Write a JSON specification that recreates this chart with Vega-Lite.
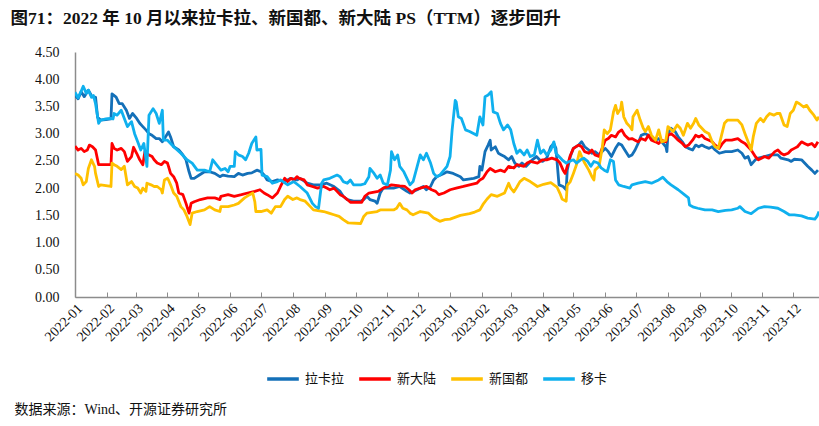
{
"$schema":"https://vega.github.io/schema/vega-lite/v6.json",
"background":"white",
"padding":{"left":10,"top":9,"right":0,"bottom":4},
"title":{"text":"数据来源：Wind、开源证券研究所","orient":"bottom","anchor":"start","frame":"bounds","font":"Liberation Serif, Noto Sans CJK SC","fontSize":14,"fontWeight":"normal","color":"#111111","offset":17,"dx":4},
"vconcat":[{
"width":744,"height":245,
"title":{"text":"图71：2022 年 10 月以来拉卡拉、新国都、新大陆 PS（TTM）逐步回升","anchor":"start","frame":"bounds","font":"Liberation Serif, Noto Sans CJK SC","fontSize":17.5,"fontWeight":"bold","color":"#111111","offset":18,"dx":-24},
"data":{"values":[
{"d":"2022-01-01","s":"拉卡拉","v":3.70},{"d":"2022-01-04","s":"拉卡拉","v":3.64},{"d":"2022-01-07","s":"拉卡拉","v":3.77},{"d":"2022-01-10","s":"拉卡拉","v":3.68},{"d":"2022-01-14","s":"拉卡拉","v":3.80},{"d":"2022-01-17","s":"拉卡拉","v":3.70},{"d":"2022-01-20","s":"拉卡拉","v":3.65},{"d":"2022-01-21","s":"拉卡拉","v":3.67},{"d":"2022-01-23","s":"拉卡拉","v":3.30},{"d":"2022-01-26","s":"拉卡拉","v":3.25},{"d":"2022-01-31","s":"拉卡拉","v":3.26},{"d":"2022-02-05","s":"拉卡拉","v":3.27},{"d":"2022-02-06","s":"拉卡拉","v":3.73},{"d":"2022-02-10","s":"拉卡拉","v":3.67},{"d":"2022-02-13","s":"拉卡拉","v":3.55},{"d":"2022-02-16","s":"拉卡拉","v":3.55},{"d":"2022-02-20","s":"拉卡拉","v":3.43},{"d":"2022-02-23","s":"拉卡拉","v":3.28},{"d":"2022-02-26","s":"拉卡拉","v":3.37},{"d":"2022-03-02","s":"拉卡拉","v":3.28},{"d":"2022-03-05","s":"拉卡拉","v":3.19},{"d":"2022-03-08","s":"拉卡拉","v":3.13},{"d":"2022-03-11","s":"拉卡拉","v":3.07},{"d":"2022-03-14","s":"拉卡拉","v":3.00},{"d":"2022-03-17","s":"拉卡拉","v":2.97},{"d":"2022-03-21","s":"拉卡拉","v":2.91},{"d":"2022-03-24","s":"拉卡拉","v":2.91},{"d":"2022-03-27","s":"拉卡拉","v":2.85},{"d":"2022-03-30","s":"拉卡拉","v":2.94},{"d":"2022-04-02","s":"拉卡拉","v":3.03},{"d":"2022-04-04","s":"拉卡拉","v":2.94},{"d":"2022-04-07","s":"拉卡拉","v":2.76},{"d":"2022-04-12","s":"拉卡拉","v":2.70},{"d":"2022-04-16","s":"拉卡拉","v":2.61},{"d":"2022-04-19","s":"拉卡拉","v":2.52},{"d":"2022-04-22","s":"拉卡拉","v":2.30},{"d":"2022-04-24","s":"拉卡拉","v":2.18},{"d":"2022-04-27","s":"拉卡拉","v":2.18},{"d":"2022-05-02","s":"拉卡拉","v":2.24},{"d":"2022-05-07","s":"拉卡拉","v":2.30},{"d":"2022-05-12","s":"拉卡拉","v":2.30},{"d":"2022-05-17","s":"拉卡拉","v":2.27},{"d":"2022-05-22","s":"拉卡拉","v":2.21},{"d":"2022-05-25","s":"拉卡拉","v":2.24},{"d":"2022-05-30","s":"拉卡拉","v":2.22},{"d":"2022-06-05","s":"拉卡拉","v":2.21},{"d":"2022-06-09","s":"拉卡拉","v":2.27},{"d":"2022-06-13","s":"拉卡拉","v":2.24},{"d":"2022-06-18","s":"拉卡拉","v":2.27},{"d":"2022-06-22","s":"拉卡拉","v":2.28},{"d":"2022-06-27","s":"拉卡拉","v":2.33},{"d":"2022-07-01","s":"拉卡拉","v":2.30},{"d":"2022-07-04","s":"拉卡拉","v":2.24},{"d":"2022-07-07","s":"拉卡拉","v":2.15},{"d":"2022-07-12","s":"拉卡拉","v":2.12},{"d":"2022-07-17","s":"拉卡拉","v":2.15},{"d":"2022-07-24","s":"拉卡拉","v":2.12},{"d":"2022-07-30","s":"拉卡拉","v":2.18},{"d":"2022-08-05","s":"拉卡拉","v":2.15},{"d":"2022-08-08","s":"拉卡拉","v":2.18},{"d":"2022-08-15","s":"拉卡拉","v":2.09},{"d":"2022-08-21","s":"拉卡拉","v":2.06},{"d":"2022-08-28","s":"拉卡拉","v":2.06},{"d":"2022-09-03","s":"拉卡拉","v":2.09},{"d":"2022-09-10","s":"拉卡拉","v":2.03},{"d":"2022-09-16","s":"拉卡拉","v":1.94},{"d":"2022-09-19","s":"拉卡拉","v":1.85},{"d":"2022-09-23","s":"拉卡拉","v":1.79},{"d":"2022-09-29","s":"拉卡拉","v":1.76},{"d":"2022-10-06","s":"拉卡拉","v":1.76},{"d":"2022-10-09","s":"拉卡拉","v":1.79},{"d":"2022-10-12","s":"拉卡拉","v":1.85},{"d":"2022-10-15","s":"拉卡拉","v":1.79},{"d":"2022-10-20","s":"拉卡拉","v":1.76},{"d":"2022-10-22","s":"拉卡拉","v":1.72},{"d":"2022-10-25","s":"拉卡拉","v":1.91},{"d":"2022-10-28","s":"拉卡拉","v":2.00},{"d":"2022-11-07","s":"拉卡拉","v":2.00},{"d":"2022-11-13","s":"拉卡拉","v":2.03},{"d":"2022-11-20","s":"拉卡拉","v":1.94},{"d":"2022-11-23","s":"拉卡拉","v":1.91},{"d":"2022-11-30","s":"拉卡拉","v":1.97},{"d":"2022-12-06","s":"拉卡拉","v":2.03},{"d":"2022-12-09","s":"拉卡拉","v":1.97},{"d":"2022-12-13","s":"拉卡拉","v":2.03},{"d":"2022-12-16","s":"拉卡拉","v":2.15},{"d":"2022-12-19","s":"拉卡拉","v":2.21},{"d":"2022-12-26","s":"拉卡拉","v":2.27},{"d":"2022-12-29","s":"拉卡拉","v":2.30},{"d":"2023-01-04","s":"拉卡拉","v":2.27},{"d":"2023-01-11","s":"拉卡拉","v":2.21},{"d":"2023-01-14","s":"拉卡拉","v":2.15},{"d":"2023-01-24","s":"拉卡拉","v":2.18},{"d":"2023-01-29","s":"拉卡拉","v":2.21},{"d":"2023-01-30","s":"拉卡拉","v":2.40},{"d":"2023-02-01","s":"拉卡拉","v":2.33},{"d":"2023-02-04","s":"拉卡拉","v":2.67},{"d":"2023-02-07","s":"拉卡拉","v":2.79},{"d":"2023-02-09","s":"拉卡拉","v":2.88},{"d":"2023-02-10","s":"拉卡拉","v":2.70},{"d":"2023-02-14","s":"拉卡拉","v":2.76},{"d":"2023-02-17","s":"拉卡拉","v":2.64},{"d":"2023-02-20","s":"拉卡拉","v":2.61},{"d":"2023-02-23","s":"拉卡拉","v":2.58},{"d":"2023-02-27","s":"拉卡拉","v":2.52},{"d":"2023-03-02","s":"拉卡拉","v":2.58},{"d":"2023-03-05","s":"拉卡拉","v":2.46},{"d":"2023-03-09","s":"拉卡拉","v":2.40},{"d":"2023-03-12","s":"拉卡拉","v":2.46},{"d":"2023-03-16","s":"拉卡拉","v":2.40},{"d":"2023-03-19","s":"拉卡拉","v":2.46},{"d":"2023-03-22","s":"拉卡拉","v":2.52},{"d":"2023-03-26","s":"拉卡拉","v":2.58},{"d":"2023-03-29","s":"拉卡拉","v":2.52},{"d":"2023-04-01","s":"拉卡拉","v":2.49},{"d":"2023-04-05","s":"拉卡拉","v":2.55},{"d":"2023-04-09","s":"拉卡拉","v":2.76},{"d":"2023-04-12","s":"拉卡拉","v":2.82},{"d":"2023-04-14","s":"拉卡拉","v":2.73},{"d":"2023-04-17","s":"拉卡拉","v":2.06},{"d":"2023-04-21","s":"拉卡拉","v":2.03},{"d":"2023-04-24","s":"拉卡拉","v":1.97},{"d":"2023-04-25","s":"拉卡拉","v":2.33},{"d":"2023-04-28","s":"拉卡拉","v":2.58},{"d":"2023-05-01","s":"拉卡拉","v":2.73},{"d":"2023-05-06","s":"拉卡拉","v":2.79},{"d":"2023-05-09","s":"拉卡拉","v":2.85},{"d":"2023-05-12","s":"拉卡拉","v":2.76},{"d":"2023-05-16","s":"拉卡拉","v":2.70},{"d":"2023-05-19","s":"拉卡拉","v":2.64},{"d":"2023-05-22","s":"拉卡拉","v":2.67},{"d":"2023-05-26","s":"拉卡拉","v":2.61},{"d":"2023-05-29","s":"拉卡拉","v":2.67},{"d":"2023-06-01","s":"拉卡拉","v":2.73},{"d":"2023-06-04","s":"拉卡拉","v":2.67},{"d":"2023-06-07","s":"拉卡拉","v":2.58},{"d":"2023-06-11","s":"拉卡拉","v":2.73},{"d":"2023-06-14","s":"拉卡拉","v":2.82},{"d":"2023-06-17","s":"拉卡拉","v":2.79},{"d":"2023-06-20","s":"拉卡拉","v":2.70},{"d":"2023-06-24","s":"拉卡拉","v":2.58},{"d":"2023-06-27","s":"拉卡拉","v":2.61},{"d":"2023-06-30","s":"拉卡拉","v":2.70},{"d":"2023-07-03","s":"拉卡拉","v":2.82},{"d":"2023-07-06","s":"拉卡拉","v":2.97},{"d":"2023-07-10","s":"拉卡拉","v":3.00},{"d":"2023-07-13","s":"拉卡拉","v":2.97},{"d":"2023-07-16","s":"拉卡拉","v":2.94},{"d":"2023-07-20","s":"拉卡拉","v":2.88},{"d":"2023-07-23","s":"拉卡拉","v":2.91},{"d":"2023-07-26","s":"拉卡拉","v":2.85},{"d":"2023-07-30","s":"拉卡拉","v":2.76},{"d":"2023-07-31","s":"拉卡拉","v":2.67},{"d":"2023-08-01","s":"拉卡拉","v":3.00},{"d":"2023-08-04","s":"拉卡拉","v":3.10},{"d":"2023-08-08","s":"拉卡拉","v":3.04},{"d":"2023-08-11","s":"拉卡拉","v":2.94},{"d":"2023-08-15","s":"拉卡拉","v":2.85},{"d":"2023-08-18","s":"拉卡拉","v":2.76},{"d":"2023-08-21","s":"拉卡拉","v":2.73},{"d":"2023-08-25","s":"拉卡拉","v":2.70},{"d":"2023-08-28","s":"拉卡拉","v":2.79},{"d":"2023-08-31","s":"拉卡拉","v":2.76},{"d":"2023-09-03","s":"拉卡拉","v":2.79},{"d":"2023-09-06","s":"拉卡拉","v":2.76},{"d":"2023-09-10","s":"拉卡拉","v":2.73},{"d":"2023-09-13","s":"拉卡拉","v":2.76},{"d":"2023-09-16","s":"拉卡拉","v":2.70},{"d":"2023-09-20","s":"拉卡拉","v":2.64},{"d":"2023-09-26","s":"拉卡拉","v":2.67},{"d":"2023-10-02","s":"拉卡拉","v":2.67},{"d":"2023-10-08","s":"拉卡拉","v":2.70},{"d":"2023-10-12","s":"拉卡拉","v":2.64},{"d":"2023-10-15","s":"拉卡拉","v":2.55},{"d":"2023-10-18","s":"拉卡拉","v":2.58},{"d":"2023-10-21","s":"拉卡拉","v":2.43},{"d":"2023-10-25","s":"拉卡拉","v":2.52},{"d":"2023-10-28","s":"拉卡拉","v":2.55},{"d":"2023-11-03","s":"拉卡拉","v":2.58},{"d":"2023-11-09","s":"拉卡拉","v":2.61},{"d":"2023-11-16","s":"拉卡拉","v":2.61},{"d":"2023-11-19","s":"拉卡拉","v":2.55},{"d":"2023-11-26","s":"拉卡拉","v":2.52},{"d":"2023-11-29","s":"拉卡拉","v":2.49},{"d":"2023-12-02","s":"拉卡拉","v":2.53},{"d":"2023-12-09","s":"拉卡拉","v":2.52},{"d":"2023-12-12","s":"拉卡拉","v":2.46},{"d":"2023-12-15","s":"拉卡拉","v":2.40},{"d":"2023-12-19","s":"拉卡拉","v":2.33},{"d":"2023-12-22","s":"拉卡拉","v":2.27},{"d":"2023-12-25","s":"拉卡拉","v":2.33},
{"d":"2022-01-01","s":"新大陆","v":2.77},{"d":"2022-01-04","s":"新大陆","v":2.70},{"d":"2022-01-07","s":"新大陆","v":2.73},{"d":"2022-01-10","s":"新大陆","v":2.67},{"d":"2022-01-13","s":"新大陆","v":2.70},{"d":"2022-01-15","s":"新大陆","v":2.79},{"d":"2022-01-18","s":"新大陆","v":2.76},{"d":"2022-01-21","s":"新大陆","v":2.70},{"d":"2022-01-24","s":"新大陆","v":2.43},{"d":"2022-01-31","s":"新大陆","v":2.43},{"d":"2022-02-05","s":"新大陆","v":2.43},{"d":"2022-02-06","s":"新大陆","v":2.82},{"d":"2022-02-08","s":"新大陆","v":2.73},{"d":"2022-02-11","s":"新大陆","v":2.70},{"d":"2022-02-15","s":"新大陆","v":2.73},{"d":"2022-02-18","s":"新大陆","v":2.67},{"d":"2022-02-21","s":"新大陆","v":2.49},{"d":"2022-02-25","s":"新大陆","v":2.58},{"d":"2022-02-27","s":"新大陆","v":2.75},{"d":"2022-03-02","s":"新大陆","v":2.64},{"d":"2022-03-05","s":"新大陆","v":2.52},{"d":"2022-03-08","s":"新大陆","v":2.43},{"d":"2022-03-10","s":"新大陆","v":2.67},{"d":"2022-03-11","s":"新大陆","v":2.64},{"d":"2022-03-14","s":"新大陆","v":2.61},{"d":"2022-03-17","s":"新大陆","v":2.58},{"d":"2022-03-19","s":"新大陆","v":2.52},{"d":"2022-03-22","s":"新大陆","v":2.46},{"d":"2022-03-26","s":"新大陆","v":2.43},{"d":"2022-03-29","s":"新大陆","v":2.49},{"d":"2022-04-01","s":"新大陆","v":2.46},{"d":"2022-04-02","s":"新大陆","v":2.40},{"d":"2022-04-04","s":"新大陆","v":2.27},{"d":"2022-04-07","s":"新大陆","v":2.21},{"d":"2022-04-10","s":"新大陆","v":2.09},{"d":"2022-04-12","s":"新大陆","v":1.91},{"d":"2022-04-16","s":"新大陆","v":1.88},{"d":"2022-04-19","s":"新大陆","v":1.72},{"d":"2022-04-22","s":"新大陆","v":1.54},{"d":"2022-04-24","s":"新大陆","v":1.72},{"d":"2022-04-27","s":"新大陆","v":1.75},{"d":"2022-05-03","s":"新大陆","v":1.79},{"d":"2022-05-10","s":"新大陆","v":1.82},{"d":"2022-05-17","s":"新大陆","v":1.82},{"d":"2022-05-22","s":"新大陆","v":1.79},{"d":"2022-05-23","s":"新大陆","v":1.85},{"d":"2022-05-30","s":"新大陆","v":1.88},{"d":"2022-06-05","s":"新大陆","v":1.85},{"d":"2022-06-12","s":"新大陆","v":1.88},{"d":"2022-06-18","s":"新大陆","v":1.91},{"d":"2022-06-25","s":"新大陆","v":1.94},{"d":"2022-06-30","s":"新大陆","v":1.97},{"d":"2022-07-04","s":"新大陆","v":1.91},{"d":"2022-07-07","s":"新大陆","v":1.88},{"d":"2022-07-12","s":"新大陆","v":1.82},{"d":"2022-07-17","s":"新大陆","v":1.91},{"d":"2022-07-20","s":"新大陆","v":2.03},{"d":"2022-07-24","s":"新大陆","v":2.18},{"d":"2022-07-27","s":"新大陆","v":2.12},{"d":"2022-07-30","s":"新大陆","v":2.18},{"d":"2022-08-02","s":"新大陆","v":2.15},{"d":"2022-08-05","s":"新大陆","v":2.21},{"d":"2022-08-07","s":"新大陆","v":2.18},{"d":"2022-08-12","s":"新大陆","v":2.15},{"d":"2022-08-15","s":"新大陆","v":2.06},{"d":"2022-08-20","s":"新大陆","v":2.03},{"d":"2022-08-25","s":"新大陆","v":2.00},{"d":"2022-08-31","s":"新大陆","v":2.03},{"d":"2022-09-03","s":"新大陆","v":2.00},{"d":"2022-09-06","s":"新大陆","v":1.97},{"d":"2022-09-10","s":"新大陆","v":2.00},{"d":"2022-09-13","s":"新大陆","v":1.94},{"d":"2022-09-16","s":"新大陆","v":1.88},{"d":"2022-09-19","s":"新大陆","v":1.85},{"d":"2022-09-23","s":"新大陆","v":1.79},{"d":"2022-09-26","s":"新大陆","v":1.74},{"d":"2022-10-07","s":"新大陆","v":1.74},{"d":"2022-10-10","s":"新大陆","v":1.85},{"d":"2022-10-14","s":"新大陆","v":1.91},{"d":"2022-10-23","s":"新大陆","v":1.94},{"d":"2022-10-28","s":"新大陆","v":2.00},{"d":"2022-11-05","s":"新大陆","v":2.06},{"d":"2022-11-13","s":"新大陆","v":2.04},{"d":"2022-11-18","s":"新大陆","v":2.03},{"d":"2022-11-22","s":"新大陆","v":1.97},{"d":"2022-11-25","s":"新大陆","v":1.91},{"d":"2022-11-28","s":"新大陆","v":1.97},{"d":"2022-12-03","s":"新大陆","v":2.00},{"d":"2022-12-09","s":"新大陆","v":2.03},{"d":"2022-12-14","s":"新大陆","v":1.97},{"d":"2022-12-18","s":"新大陆","v":1.94},{"d":"2022-12-21","s":"新大陆","v":1.88},{"d":"2022-12-26","s":"新大陆","v":1.91},{"d":"2023-01-01","s":"新大陆","v":1.97},{"d":"2023-01-07","s":"新大陆","v":2.00},{"d":"2023-01-14","s":"新大陆","v":2.03},{"d":"2023-01-20","s":"新大陆","v":2.06},{"d":"2023-01-27","s":"新大陆","v":2.09},{"d":"2023-01-30","s":"新大陆","v":2.15},{"d":"2023-02-02","s":"新大陆","v":2.18},{"d":"2023-02-06","s":"新大陆","v":2.30},{"d":"2023-02-09","s":"新大陆","v":2.36},{"d":"2023-02-14","s":"新大陆","v":2.30},{"d":"2023-02-19","s":"新大陆","v":2.33},{"d":"2023-02-23","s":"新大陆","v":2.30},{"d":"2023-02-27","s":"新大陆","v":2.40},{"d":"2023-03-04","s":"新大陆","v":2.37},{"d":"2023-03-07","s":"新大陆","v":2.43},{"d":"2023-03-14","s":"新大陆","v":2.40},{"d":"2023-03-17","s":"新大陆","v":2.46},{"d":"2023-03-20","s":"新大陆","v":2.49},{"d":"2023-03-27","s":"新大陆","v":2.46},{"d":"2023-04-01","s":"新大陆","v":2.52},{"d":"2023-04-05","s":"新大陆","v":2.52},{"d":"2023-04-10","s":"新大陆","v":2.55},{"d":"2023-04-15","s":"新大陆","v":2.52},{"d":"2023-04-18","s":"新大陆","v":2.46},{"d":"2023-04-21","s":"新大陆","v":2.33},{"d":"2023-04-23","s":"新大陆","v":2.27},{"d":"2023-04-25","s":"新大陆","v":2.40},{"d":"2023-04-28","s":"新大陆","v":2.60},{"d":"2023-05-01","s":"新大陆","v":2.73},{"d":"2023-05-06","s":"新大陆","v":2.79},{"d":"2023-05-09","s":"新大陆","v":2.76},{"d":"2023-05-12","s":"新大陆","v":2.67},{"d":"2023-05-16","s":"新大陆","v":2.64},{"d":"2023-05-19","s":"新大陆","v":2.70},{"d":"2023-05-22","s":"新大陆","v":2.61},{"d":"2023-05-26","s":"新大陆","v":2.58},{"d":"2023-05-29","s":"新大陆","v":2.73},{"d":"2023-06-01","s":"新大陆","v":2.88},{"d":"2023-06-04","s":"新大陆","v":2.91},{"d":"2023-06-07","s":"新大陆","v":2.97},{"d":"2023-06-11","s":"新大陆","v":2.94},{"d":"2023-06-14","s":"新大陆","v":3.03},{"d":"2023-06-17","s":"新大陆","v":3.07},{"d":"2023-06-20","s":"新大陆","v":2.97},{"d":"2023-06-24","s":"新大陆","v":2.90},{"d":"2023-06-27","s":"新大陆","v":2.91},{"d":"2023-06-30","s":"新大陆","v":2.88},{"d":"2023-07-03","s":"新大陆","v":2.85},{"d":"2023-07-06","s":"新大陆","v":2.91},{"d":"2023-07-10","s":"新大陆","v":2.88},{"d":"2023-07-13","s":"新大陆","v":2.97},{"d":"2023-07-16","s":"新大陆","v":2.88},{"d":"2023-07-20","s":"新大陆","v":2.85},{"d":"2023-07-23","s":"新大陆","v":2.82},{"d":"2023-07-26","s":"新大陆","v":2.88},{"d":"2023-07-30","s":"新大陆","v":2.85},{"d":"2023-08-01","s":"新大陆","v":2.97},{"d":"2023-08-04","s":"新大陆","v":3.00},{"d":"2023-08-08","s":"新大陆","v":2.94},{"d":"2023-08-11","s":"新大陆","v":2.88},{"d":"2023-08-15","s":"新大陆","v":2.82},{"d":"2023-08-18","s":"新大陆","v":2.76},{"d":"2023-08-21","s":"新大陆","v":2.79},{"d":"2023-08-25","s":"新大陆","v":2.88},{"d":"2023-08-28","s":"新大陆","v":2.97},{"d":"2023-08-31","s":"新大陆","v":2.94},{"d":"2023-09-03","s":"新大陆","v":2.97},{"d":"2023-09-06","s":"新大陆","v":2.91},{"d":"2023-09-10","s":"新大陆","v":2.88},{"d":"2023-09-13","s":"新大陆","v":2.85},{"d":"2023-09-16","s":"新大陆","v":2.79},{"d":"2023-09-20","s":"新大陆","v":2.73},{"d":"2023-09-23","s":"新大陆","v":2.82},{"d":"2023-09-26","s":"新大陆","v":2.88},{"d":"2023-10-02","s":"新大陆","v":2.88},{"d":"2023-10-08","s":"新大陆","v":2.91},{"d":"2023-10-12","s":"新大陆","v":2.85},{"d":"2023-10-15","s":"新大陆","v":2.82},{"d":"2023-10-18","s":"新大陆","v":2.76},{"d":"2023-10-21","s":"新大陆","v":2.70},{"d":"2023-10-25","s":"新大陆","v":2.58},{"d":"2023-10-28","s":"新大陆","v":2.52},{"d":"2023-10-31","s":"新大陆","v":2.55},{"d":"2023-11-03","s":"新大陆","v":2.58},{"d":"2023-11-07","s":"新大陆","v":2.55},{"d":"2023-11-10","s":"新大陆","v":2.61},{"d":"2023-11-13","s":"新大陆","v":2.67},{"d":"2023-11-16","s":"新大陆","v":2.70},{"d":"2023-11-19","s":"新大陆","v":2.64},{"d":"2023-11-22","s":"新大陆","v":2.61},{"d":"2023-11-26","s":"新大陆","v":2.64},{"d":"2023-11-29","s":"新大陆","v":2.70},{"d":"2023-12-02","s":"新大陆","v":2.73},{"d":"2023-12-05","s":"新大陆","v":2.76},{"d":"2023-12-09","s":"新大陆","v":2.85},{"d":"2023-12-12","s":"新大陆","v":2.82},{"d":"2023-12-15","s":"新大陆","v":2.79},{"d":"2023-12-19","s":"新大陆","v":2.82},{"d":"2023-12-22","s":"新大陆","v":2.76},{"d":"2023-12-25","s":"新大陆","v":2.85},
{"d":"2022-01-01","s":"新国都","v":2.27},{"d":"2022-01-04","s":"新国都","v":2.24},{"d":"2022-01-07","s":"新国都","v":2.18},{"d":"2022-01-09","s":"新国都","v":2.06},{"d":"2022-01-12","s":"新国都","v":2.12},{"d":"2022-01-14","s":"新国都","v":2.36},{"d":"2022-01-17","s":"新国都","v":2.52},{"d":"2022-01-20","s":"新国都","v":2.40},{"d":"2022-01-21","s":"新国都","v":2.27},{"d":"2022-01-24","s":"新国都","v":2.03},{"d":"2022-01-26","s":"新国都","v":2.06},{"d":"2022-02-05","s":"新国都","v":2.03},{"d":"2022-02-06","s":"新国都","v":2.46},{"d":"2022-02-08","s":"新国都","v":2.43},{"d":"2022-02-11","s":"新国都","v":2.40},{"d":"2022-02-15","s":"新国都","v":2.34},{"d":"2022-02-18","s":"新国都","v":2.40},{"d":"2022-02-21","s":"新国都","v":2.06},{"d":"2022-02-25","s":"新国都","v":2.12},{"d":"2022-02-28","s":"新国都","v":2.03},{"d":"2022-03-03","s":"新国都","v":2.00},{"d":"2022-03-06","s":"新国都","v":1.91},{"d":"2022-03-08","s":"新国都","v":2.00},{"d":"2022-03-11","s":"新国都","v":1.94},{"d":"2022-03-12","s":"新国都","v":2.09},{"d":"2022-03-16","s":"新国都","v":2.06},{"d":"2022-03-19","s":"新国都","v":2.03},{"d":"2022-03-22","s":"新国都","v":2.03},{"d":"2022-03-26","s":"新国都","v":1.97},{"d":"2022-03-27","s":"新国都","v":1.91},{"d":"2022-03-29","s":"新国都","v":2.15},{"d":"2022-04-01","s":"新国都","v":2.18},{"d":"2022-04-02","s":"新国都","v":2.15},{"d":"2022-04-04","s":"新国都","v":2.06},{"d":"2022-04-07","s":"新国都","v":1.91},{"d":"2022-04-10","s":"新国都","v":1.85},{"d":"2022-04-14","s":"新国都","v":1.66},{"d":"2022-04-17","s":"新国都","v":1.60},{"d":"2022-04-20","s":"新国都","v":1.48},{"d":"2022-04-23","s":"新国都","v":1.33},{"d":"2022-04-25","s":"新国都","v":1.54},{"d":"2022-04-30","s":"新国都","v":1.57},{"d":"2022-05-07","s":"新国都","v":1.60},{"d":"2022-05-12","s":"新国都","v":1.66},{"d":"2022-05-17","s":"新国都","v":1.60},{"d":"2022-05-22","s":"新国都","v":1.57},{"d":"2022-05-23","s":"新国都","v":1.66},{"d":"2022-05-30","s":"新国都","v":1.66},{"d":"2022-06-05","s":"新国都","v":1.69},{"d":"2022-06-09","s":"新国都","v":1.72},{"d":"2022-06-15","s":"新国都","v":1.82},{"d":"2022-06-20","s":"新国都","v":1.88},{"d":"2022-06-23","s":"新国都","v":1.91},{"d":"2022-06-25","s":"新国都","v":1.75},{"d":"2022-06-26","s":"新国都","v":1.57},{"d":"2022-07-01","s":"新国都","v":1.57},{"d":"2022-07-07","s":"新国都","v":1.60},{"d":"2022-07-11","s":"新国都","v":1.54},{"d":"2022-07-12","s":"新国都","v":1.57},{"d":"2022-07-15","s":"新国都","v":1.66},{"d":"2022-07-20","s":"新国都","v":1.66},{"d":"2022-07-24","s":"新国都","v":1.79},{"d":"2022-07-27","s":"新国都","v":1.85},{"d":"2022-08-01","s":"新国都","v":1.79},{"d":"2022-08-05","s":"新国都","v":1.82},{"d":"2022-08-08","s":"新国都","v":1.79},{"d":"2022-08-13","s":"新国都","v":1.76},{"d":"2022-08-18","s":"新国都","v":1.66},{"d":"2022-08-21","s":"新国都","v":1.60},{"d":"2022-08-31","s":"新国都","v":1.57},{"d":"2022-09-05","s":"新国都","v":1.54},{"d":"2022-09-10","s":"新国都","v":1.51},{"d":"2022-09-15","s":"新国都","v":1.48},{"d":"2022-09-19","s":"新国都","v":1.42},{"d":"2022-09-24","s":"新国都","v":1.36},{"d":"2022-10-06","s":"新国都","v":1.35},{"d":"2022-10-09","s":"新国都","v":1.48},{"d":"2022-10-12","s":"新国都","v":1.54},{"d":"2022-10-22","s":"新国都","v":1.57},{"d":"2022-10-25","s":"新国都","v":1.60},{"d":"2022-11-07","s":"新国都","v":1.60},{"d":"2022-11-10","s":"新国都","v":1.63},{"d":"2022-11-13","s":"新国都","v":1.72},{"d":"2022-11-16","s":"新国都","v":1.63},{"d":"2022-11-20","s":"新国都","v":1.60},{"d":"2022-11-23","s":"新国都","v":1.54},{"d":"2022-11-26","s":"新国都","v":1.51},{"d":"2022-12-03","s":"新国都","v":1.57},{"d":"2022-12-11","s":"新国都","v":1.54},{"d":"2022-12-16","s":"新国都","v":1.45},{"d":"2022-12-22","s":"新国都","v":1.39},{"d":"2022-12-27","s":"新国都","v":1.42},{"d":"2023-01-01","s":"新国都","v":1.43},{"d":"2023-01-11","s":"新国都","v":1.50},{"d":"2023-01-20","s":"新国都","v":1.53},{"d":"2023-01-25","s":"新国都","v":1.56},{"d":"2023-01-30","s":"新国都","v":1.60},{"d":"2023-02-02","s":"新国都","v":1.70},{"d":"2023-02-06","s":"新国都","v":1.80},{"d":"2023-02-10","s":"新国都","v":1.88},{"d":"2023-02-16","s":"新国都","v":1.85},{"d":"2023-02-23","s":"新国都","v":1.91},{"d":"2023-02-27","s":"新国都","v":2.09},{"d":"2023-03-01","s":"新国都","v":2.00},{"d":"2023-03-04","s":"新国都","v":1.93},{"d":"2023-03-07","s":"新国都","v":2.02},{"d":"2023-03-10","s":"新国都","v":2.12},{"d":"2023-03-14","s":"新国都","v":2.18},{"d":"2023-03-20","s":"新国都","v":2.12},{"d":"2023-03-27","s":"新国都","v":2.03},{"d":"2023-04-02","s":"新国都","v":2.07},{"d":"2023-04-09","s":"新国都","v":2.10},{"d":"2023-04-15","s":"新国都","v":2.02},{"d":"2023-04-18","s":"新国都","v":1.90},{"d":"2023-04-20","s":"新国都","v":1.80},{"d":"2023-04-24","s":"新国都","v":1.76},{"d":"2023-04-25","s":"新国都","v":2.05},{"d":"2023-04-28","s":"新国都","v":2.12},{"d":"2023-05-01","s":"新国都","v":2.27},{"d":"2023-05-04","s":"新国都","v":2.43},{"d":"2023-05-07","s":"新国都","v":2.67},{"d":"2023-05-09","s":"新国都","v":2.58},{"d":"2023-05-12","s":"新国都","v":2.46},{"d":"2023-05-16","s":"新国都","v":2.33},{"d":"2023-05-19","s":"新国都","v":2.21},{"d":"2023-05-21","s":"新国都","v":2.15},{"d":"2023-05-22","s":"新国都","v":2.33},{"d":"2023-05-26","s":"新国都","v":2.40},{"d":"2023-05-29","s":"新国都","v":2.73},{"d":"2023-05-31","s":"新国都","v":3.07},{"d":"2023-06-03","s":"新国都","v":3.00},{"d":"2023-06-06","s":"新国都","v":3.07},{"d":"2023-06-09","s":"新国都","v":3.40},{"d":"2023-06-11","s":"新国都","v":3.52},{"d":"2023-06-13","s":"新国都","v":3.37},{"d":"2023-06-16","s":"新国都","v":3.46},{"d":"2023-06-17","s":"新国都","v":3.58},{"d":"2023-06-19","s":"新国都","v":3.31},{"d":"2023-06-22","s":"新国都","v":3.19},{"d":"2023-06-25","s":"新国都","v":3.13},{"d":"2023-06-27","s":"新国都","v":3.07},{"d":"2023-06-28","s":"新国都","v":3.31},{"d":"2023-07-02","s":"新国都","v":3.43},{"d":"2023-07-05","s":"新国都","v":3.25},{"d":"2023-07-08","s":"新国都","v":3.10},{"d":"2023-07-10","s":"新国都","v":3.04},{"d":"2023-07-13","s":"新国都","v":3.13},{"d":"2023-07-16","s":"新国都","v":2.97},{"d":"2023-07-20","s":"新国都","v":2.88},{"d":"2023-07-23","s":"新国都","v":3.07},{"d":"2023-07-26","s":"新国都","v":2.85},{"d":"2023-07-30","s":"新国都","v":2.88},{"d":"2023-08-01","s":"新国都","v":3.13},{"d":"2023-08-06","s":"新国都","v":3.04},{"d":"2023-08-10","s":"新国都","v":3.16},{"d":"2023-08-13","s":"新国都","v":3.10},{"d":"2023-08-16","s":"新国都","v":2.97},{"d":"2023-08-20","s":"新国都","v":3.19},{"d":"2023-08-23","s":"新国都","v":3.10},{"d":"2023-08-26","s":"新国都","v":3.19},{"d":"2023-08-28","s":"新国都","v":3.28},{"d":"2023-08-31","s":"新国都","v":3.16},{"d":"2023-09-03","s":"新国都","v":3.10},{"d":"2023-09-06","s":"新国都","v":3.04},{"d":"2023-09-10","s":"新国都","v":3.00},{"d":"2023-09-13","s":"新国都","v":2.85},{"d":"2023-09-16","s":"新国都","v":2.76},{"d":"2023-09-19","s":"新国都","v":2.73},{"d":"2023-09-21","s":"新国都","v":2.88},{"d":"2023-09-25","s":"新国都","v":3.19},{"d":"2023-09-28","s":"新国都","v":3.25},{"d":"2023-10-08","s":"新国都","v":3.25},{"d":"2023-10-12","s":"新国都","v":3.16},{"d":"2023-10-15","s":"新国都","v":3.00},{"d":"2023-10-18","s":"新国都","v":2.85},{"d":"2023-10-21","s":"新国都","v":2.70},{"d":"2023-10-23","s":"新国都","v":2.94},{"d":"2023-10-26","s":"新国都","v":3.19},{"d":"2023-10-30","s":"新国都","v":3.28},{"d":"2023-11-02","s":"新国都","v":3.22},{"d":"2023-11-05","s":"新国都","v":3.31},{"d":"2023-11-08","s":"新国都","v":3.37},{"d":"2023-11-12","s":"新国都","v":3.34},{"d":"2023-11-15","s":"新国都","v":3.37},{"d":"2023-11-18","s":"新国都","v":3.37},{"d":"2023-11-22","s":"新国都","v":3.16},{"d":"2023-11-25","s":"新国都","v":3.13},{"d":"2023-11-28","s":"新国都","v":3.37},{"d":"2023-12-01","s":"新国都","v":3.43},{"d":"2023-12-04","s":"新国都","v":3.58},{"d":"2023-12-07","s":"新国都","v":3.55},{"d":"2023-12-11","s":"新国都","v":3.49},{"d":"2023-12-14","s":"新国都","v":3.52},{"d":"2023-12-17","s":"新国都","v":3.43},{"d":"2023-12-21","s":"新国都","v":3.34},{"d":"2023-12-24","s":"新国都","v":3.25},{"d":"2023-12-26","s":"新国都","v":3.31},
{"d":"2022-01-01","s":"移卡","v":3.76},{"d":"2022-01-04","s":"移卡","v":3.66},{"d":"2022-01-07","s":"移卡","v":3.78},{"d":"2022-01-09","s":"移卡","v":3.87},{"d":"2022-01-12","s":"移卡","v":3.74},{"d":"2022-01-14","s":"移卡","v":3.80},{"d":"2022-01-17","s":"移卡","v":3.67},{"d":"2022-01-19","s":"移卡","v":3.70},{"d":"2022-01-21","s":"移卡","v":3.55},{"d":"2022-01-24","s":"移卡","v":3.19},{"d":"2022-01-26","s":"移卡","v":3.25},{"d":"2022-01-31","s":"移卡","v":3.27},{"d":"2022-02-05","s":"移卡","v":3.28},{"d":"2022-02-07","s":"移卡","v":3.27},{"d":"2022-02-08","s":"移卡","v":3.37},{"d":"2022-02-11","s":"移卡","v":3.34},{"d":"2022-02-15","s":"移卡","v":3.43},{"d":"2022-02-18","s":"移卡","v":3.28},{"d":"2022-02-21","s":"移卡","v":3.13},{"d":"2022-02-25","s":"移卡","v":3.22},{"d":"2022-02-28","s":"移卡","v":3.00},{"d":"2022-03-03","s":"移卡","v":2.85},{"d":"2022-03-06","s":"移卡","v":2.70},{"d":"2022-03-09","s":"移卡","v":2.82},{"d":"2022-03-12","s":"移卡","v":2.40},{"d":"2022-03-14","s":"移卡","v":3.34},{"d":"2022-03-18","s":"移卡","v":3.46},{"d":"2022-03-21","s":"移卡","v":3.37},{"d":"2022-03-24","s":"移卡","v":3.19},{"d":"2022-03-27","s":"移卡","v":3.43},{"d":"2022-03-28","s":"移卡","v":2.88},{"d":"2022-04-01","s":"移卡","v":2.88},{"d":"2022-04-07","s":"移卡","v":2.76},{"d":"2022-04-14","s":"移卡","v":2.64},{"d":"2022-04-20","s":"移卡","v":2.52},{"d":"2022-04-25","s":"移卡","v":2.46},{"d":"2022-04-30","s":"移卡","v":2.33},{"d":"2022-05-07","s":"移卡","v":2.33},{"d":"2022-05-12","s":"移卡","v":2.30},{"d":"2022-05-15","s":"移卡","v":2.52},{"d":"2022-05-20","s":"移卡","v":2.40},{"d":"2022-05-23","s":"移卡","v":2.33},{"d":"2022-05-27","s":"移卡","v":2.36},{"d":"2022-05-30","s":"移卡","v":2.30},{"d":"2022-06-01","s":"移卡","v":2.40},{"d":"2022-06-05","s":"移卡","v":2.40},{"d":"2022-06-06","s":"移卡","v":2.67},{"d":"2022-06-09","s":"移卡","v":2.61},{"d":"2022-06-13","s":"移卡","v":2.58},{"d":"2022-06-16","s":"移卡","v":2.52},{"d":"2022-06-19","s":"移卡","v":2.64},{"d":"2022-06-22","s":"移卡","v":2.82},{"d":"2022-06-26","s":"移卡","v":2.94},{"d":"2022-06-27","s":"移卡","v":2.70},{"d":"2022-07-01","s":"移卡","v":2.71},{"d":"2022-07-02","s":"移卡","v":2.24},{"d":"2022-07-07","s":"移卡","v":2.21},{"d":"2022-07-12","s":"移卡","v":2.09},{"d":"2022-07-17","s":"移卡","v":2.12},{"d":"2022-07-20","s":"移卡","v":2.15},{"d":"2022-07-27","s":"移卡","v":2.06},{"d":"2022-08-02","s":"移卡","v":2.12},{"d":"2022-08-08","s":"移卡","v":2.03},{"d":"2022-08-15","s":"移卡","v":1.91},{"d":"2022-08-20","s":"移卡","v":1.72},{"d":"2022-08-23","s":"移卡","v":1.66},{"d":"2022-08-26","s":"移卡","v":1.63},{"d":"2022-08-29","s":"移卡","v":2.09},{"d":"2022-08-31","s":"移卡","v":2.15},{"d":"2022-09-06","s":"移卡","v":2.18},{"d":"2022-09-13","s":"移卡","v":2.24},{"d":"2022-09-16","s":"移卡","v":2.21},{"d":"2022-09-19","s":"移卡","v":2.12},{"d":"2022-09-23","s":"移卡","v":2.09},{"d":"2022-09-26","s":"移卡","v":2.15},{"d":"2022-09-29","s":"移卡","v":2.06},{"d":"2022-10-06","s":"移卡","v":2.06},{"d":"2022-10-10","s":"移卡","v":2.08},{"d":"2022-10-14","s":"移卡","v":2.21},{"d":"2022-10-15","s":"移卡","v":2.36},{"d":"2022-10-19","s":"移卡","v":2.27},{"d":"2022-10-22","s":"移卡","v":2.18},{"d":"2022-10-25","s":"移卡","v":2.24},{"d":"2022-10-28","s":"移卡","v":2.09},{"d":"2022-11-01","s":"移卡","v":2.06},{"d":"2022-11-04","s":"移卡","v":2.33},{"d":"2022-11-05","s":"移卡","v":2.67},{"d":"2022-11-08","s":"移卡","v":2.52},{"d":"2022-11-11","s":"移卡","v":2.61},{"d":"2022-11-13","s":"移卡","v":2.40},{"d":"2022-11-17","s":"移卡","v":2.30},{"d":"2022-11-20","s":"移卡","v":2.18},{"d":"2022-11-23","s":"移卡","v":2.06},{"d":"2022-11-26","s":"移卡","v":2.12},{"d":"2022-11-30","s":"移卡","v":2.40},{"d":"2022-12-03","s":"移卡","v":2.61},{"d":"2022-12-06","s":"移卡","v":2.52},{"d":"2022-12-09","s":"移卡","v":2.64},{"d":"2022-12-13","s":"移卡","v":2.46},{"d":"2022-12-16","s":"移卡","v":2.27},{"d":"2022-12-19","s":"移卡","v":2.21},{"d":"2022-12-22","s":"移卡","v":2.24},{"d":"2022-12-26","s":"移卡","v":2.33},{"d":"2022-12-29","s":"移卡","v":2.40},{"d":"2023-01-01","s":"移卡","v":2.58},{"d":"2023-01-03","s":"移卡","v":3.07},{"d":"2023-01-06","s":"移卡","v":3.61},{"d":"2023-01-07","s":"移卡","v":3.58},{"d":"2023-01-09","s":"移卡","v":3.31},{"d":"2023-01-12","s":"移卡","v":3.28},{"d":"2023-01-16","s":"移卡","v":3.07},{"d":"2023-01-20","s":"移卡","v":3.04},{"d":"2023-01-27","s":"移卡","v":2.97},{"d":"2023-01-30","s":"移卡","v":3.31},{"d":"2023-02-02","s":"移卡","v":3.16},{"d":"2023-02-04","s":"移卡","v":3.68},{"d":"2023-02-07","s":"移卡","v":3.71},{"d":"2023-02-10","s":"移卡","v":3.77},{"d":"2023-02-12","s":"移卡","v":3.40},{"d":"2023-02-16","s":"移卡","v":3.37},{"d":"2023-02-19","s":"移卡","v":3.19},{"d":"2023-02-22","s":"移卡","v":3.07},{"d":"2023-02-26","s":"移卡","v":3.16},{"d":"2023-03-01","s":"移卡","v":3.07},{"d":"2023-03-04","s":"移卡","v":2.82},{"d":"2023-03-07","s":"移卡","v":2.64},{"d":"2023-03-10","s":"移卡","v":2.70},{"d":"2023-03-14","s":"移卡","v":2.61},{"d":"2023-03-17","s":"移卡","v":2.70},{"d":"2023-03-20","s":"移卡","v":2.58},{"d":"2023-03-24","s":"移卡","v":2.61},{"d":"2023-03-27","s":"移卡","v":2.88},{"d":"2023-03-30","s":"移卡","v":2.64},{"d":"2023-04-02","s":"移卡","v":2.70},{"d":"2023-04-05","s":"移卡","v":2.61},{"d":"2023-04-09","s":"移卡","v":2.70},{"d":"2023-04-12","s":"移卡","v":2.85},{"d":"2023-04-14","s":"移卡","v":2.64},{"d":"2023-04-17","s":"移卡","v":2.58},{"d":"2023-04-20","s":"移卡","v":2.52},{"d":"2023-04-24","s":"移卡","v":2.46},{"d":"2023-04-27","s":"移卡","v":2.49},{"d":"2023-05-01","s":"移卡","v":2.52},{"d":"2023-05-04","s":"移卡","v":2.46},{"d":"2023-05-08","s":"移卡","v":2.52},{"d":"2023-05-11","s":"移卡","v":2.55},{"d":"2023-05-15","s":"移卡","v":2.49},{"d":"2023-05-18","s":"移卡","v":2.40},{"d":"2023-05-21","s":"移卡","v":2.49},{"d":"2023-05-25","s":"移卡","v":2.46},{"d":"2023-05-28","s":"移卡","v":2.37},{"d":"2023-05-31","s":"移卡","v":2.33},{"d":"2023-06-03","s":"移卡","v":2.30},{"d":"2023-06-06","s":"移卡","v":2.52},{"d":"2023-06-09","s":"移卡","v":2.49},{"d":"2023-06-11","s":"移卡","v":2.15},{"d":"2023-06-14","s":"移卡","v":2.06},{"d":"2023-06-19","s":"移卡","v":2.03},{"d":"2023-06-25","s":"移卡","v":2.00},{"d":"2023-06-27","s":"移卡","v":2.06},{"d":"2023-07-03","s":"移卡","v":2.09},{"d":"2023-07-10","s":"移卡","v":2.12},{"d":"2023-07-16","s":"移卡","v":2.09},{"d":"2023-07-23","s":"移卡","v":2.15},{"d":"2023-07-27","s":"移卡","v":2.20},{"d":"2023-07-31","s":"移卡","v":2.12},{"d":"2023-08-04","s":"移卡","v":2.06},{"d":"2023-08-11","s":"移卡","v":1.97},{"d":"2023-08-17","s":"移卡","v":1.88},{"d":"2023-08-21","s":"移卡","v":1.82},{"d":"2023-08-22","s":"移卡","v":1.69},{"d":"2023-08-26","s":"移卡","v":1.65},{"d":"2023-08-30","s":"移卡","v":1.63},{"d":"2023-09-06","s":"移卡","v":1.60},{"d":"2023-09-13","s":"移卡","v":1.60},{"d":"2023-09-19","s":"移卡","v":1.57},{"d":"2023-09-26","s":"移卡","v":1.59},{"d":"2023-10-02","s":"移卡","v":1.60},{"d":"2023-10-08","s":"移卡","v":1.63},{"d":"2023-10-10","s":"移卡","v":1.66},{"d":"2023-10-15","s":"移卡","v":1.57},{"d":"2023-10-21","s":"移卡","v":1.53},{"d":"2023-10-28","s":"移卡","v":1.63},{"d":"2023-11-03","s":"移卡","v":1.66},{"d":"2023-11-09","s":"移卡","v":1.65},{"d":"2023-11-16","s":"移卡","v":1.63},{"d":"2023-11-22","s":"移卡","v":1.57},{"d":"2023-11-27","s":"移卡","v":1.51},{"d":"2023-12-02","s":"移卡","v":1.51},{"d":"2023-12-09","s":"移卡","v":1.49},{"d":"2023-12-15","s":"移卡","v":1.45},{"d":"2023-12-22","s":"移卡","v":1.43},{"d":"2023-12-24","s":"移卡","v":1.48},{"d":"2023-12-26","s":"移卡","v":1.57}
]},
"mark":{"type":"line","strokeWidth":2.8,"strokeJoin":"round","clip":true},
"encoding":{
"x":{"field":"d","type":"temporal","scale":{"type":"utc","domain":[{"year":2022,"month":1,"date":1,"utc":true},{"year":2023,"month":12,"date":26,"utc":true}]},
"axis":{"title":null,"format":"%Y-%m","formatType":"time","tickCount":{"interval":"month","step":1},"labelAngle":-45,"labelAlign":"right","labelBaseline":"top","labelFont":"Liberation Serif","labelFontSize":14,"labelColor":"#111111","labelPadding":9,"labelOverlap":false,"labelFlush":false,"domainColor":"#8c8c8c","domainWidth":1.5,"tickColor":"#8c8c8c","tickSize":-5,"tickWidth":1,"grid":false}},
"y":{"field":"v","type":"quantitative","scale":{"domain":[0,4.5],"nice":false},
"axis":{"title":null,"values":[0,0.5,1,1.5,2,2.5,3,3.5,4,4.5],"format":".2f","labelFont":"Liberation Serif","labelFontSize":14,"labelColor":"#111111","labelPadding":16,"ticks":false,"domainColor":"#8c8c8c","domainWidth":1.5,"grid":false}},
"color":{"field":"s","type":"nominal","scale":{"domain":["拉卡拉","新大陆","新国都","移卡"],"range":["#1470b8","#ff0000","#ffc000","#0fb0ee"]},
"legend":{"title":null,"orient":"none","legendX":190,"legendY":309,"direction":"horizontal","symbolType":"stroke","symbolSize":1000,"symbolStrokeWidth":3.5,"labelFont":"Liberation Serif, Noto Sans CJK SC","labelFontSize":13,"labelColor":"#111111","labelOffset":4,"columnPadding":7}}
}
}],
"config":{"view":{"stroke":null}}
}
